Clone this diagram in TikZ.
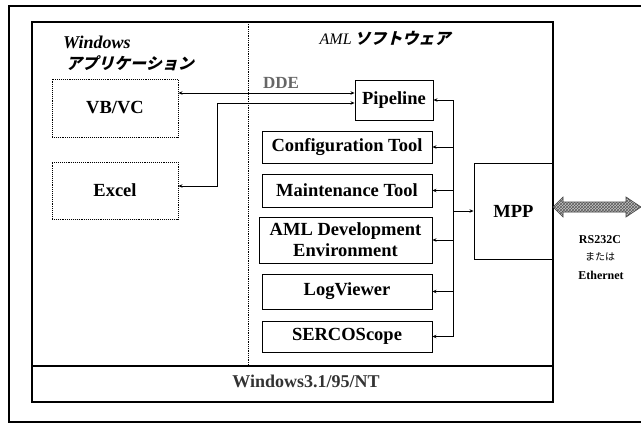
\documentclass[tikz,border=0pt]{standalone}
\usepackage{fontspec}
\setmainfont{Liberation Serif}
\newfontfamily\jpslant[FakeSlant=0.25]{Noto Sans CJK JP}
\newfontfamily\jpplain{Noto Sans CJK JP}
\usetikzlibrary{arrows.meta,patterns}
\begin{document}
\begin{tikzpicture}[x=1pt,y=-1pt,
  tool/.style={draw, line width=0.9pt, inner sep=0pt, align=center,
    font=\fontsize{18.5}{21}\selectfont\bfseries},
  app/.style={draw, densely dotted, line width=0.9pt, inner sep=0pt,
    font=\fontsize{18.5}{21}\selectfont\bfseries},
  conn/.style={line width=0.8pt},
  tipend/.style={-{Stealth[length=4pt,width=3.5pt]}},
  tipboth/.style={{Stealth[length=4pt,width=3.5pt]}-{Stealth[length=4pt,width=3.5pt]}},
  lbl/.style={inner sep=0pt}
]
\useasboundingbox (0,0) rectangle (641,423);
% outer frame
\draw[line width=1.3pt] (645,6) -- (9,6) -- (9,422) -- (645,422);
% main box
\draw[line width=2.4pt] (32,22) rectangle (553,402);
\draw[line width=2.4pt] (32,366) -- (553,366);
\draw[densely dotted, line width=0.8pt] (248,22) -- (248,366);

% headings
\node[lbl, anchor=west, font=\fontsize{18}{20}\selectfont\bfseries\itshape] (winh) at (63,42) {Windows};
\node[lbl, anchor=west, font=\fontsize{16}{18}\selectfont\jpslant\bfseries] (apph) at (66,63) {アプリケーション};
\node[lbl, font=\fontsize{16}{18}\selectfont] (amlh) at (385,38) {{\itshape AML}\,{\jpslant\bfseries ソフトウェア}};
\node[lbl, text=black!60, font=\fontsize{17}{19}\selectfont\bfseries] (dde) at (281,83) {DDE};
\node[lbl, text=black!80, font=\fontsize{18}{20}\selectfont\bfseries] (os) at (306,381) {Windows3.1/95/NT};

% application boxes
\node[app, minimum width=126pt, minimum height=58pt] (vbvc) at (115,108) {VB/VC};
\node[app, minimum width=126pt, minimum height=57pt] (excel) at (115,190.5) {Excel};

% AML tools
\node[tool, minimum width=78pt, minimum height=40pt] (pipe) at (394,100) {Pipeline};
\node[tool, minimum width=170pt, minimum height=32pt] (conf) at (347,147) {Configuration Tool};
\node[tool, minimum width=170pt, minimum height=33pt] (maint) at (347,190.5) {Maintenance Tool};
\node[tool, minimum width=173pt, minimum height=46pt] (amld) at (345.5,240) {AML Development\\Environment};
\node[tool, minimum width=170pt, minimum height=35pt] (logv) at (347,291.5) {LogViewer};
\node[tool, minimum width=170pt, minimum height=31pt] (serco) at (347,336.5) {SERCOScope};
\node[tool, minimum width=79pt, minimum height=96pt] (mpp) at (513.5,211) {MPP};

% DDE connectors
\coordinate (d1) at (0,93);
\coordinate (d2) at (0,103);
\coordinate (e1) at (0,186);
\coordinate (bend) at (217,0);
\draw[conn, tipboth] (vbvc.east |- d1) -- (pipe.west |- d1);
\draw[conn, tipboth] (pipe.west |- d2) -- (bend |- d2) -- (bend |- e1) -- (excel.east |- e1);

% bus
\coordinate (bus) at (453,0);
\draw[conn] (bus |- pipe.east) -- (bus |- serco.east);
\foreach \n in {pipe,conf,maint,amld,logv,serco}
  \draw[conn, tipend] (bus |- \n.east) -- (\n.east);
\draw[conn, tipend] (bus |- mpp.west) -- (mpp.west);

% serial link arrow
\coordinate (lk) at (553,207);
\filldraw[fill=gray!45, draw=gray!50!black, line width=0.6pt]
  (lk) -- ++(10,-10) -- ++(0,5) -- ++(63,0) -- ++(0,-5) -- ++(15,10)
  -- ++(-15,10) -- ++(0,-5) -- ++(-63,0) -- ++(0,5) -- cycle;
\fill[pattern=crosshatch, pattern color=gray!70!black]
  (lk) -- ++(10,-10) -- ++(0,5) -- ++(63,0) -- ++(0,-5) -- ++(15,10)
  -- ++(-15,10) -- ++(0,-5) -- ++(-63,0) -- ++(0,5) -- cycle;
\node[lbl, font=\fontsize{12}{14}\selectfont\bfseries] (rs) at (600,240) {RS232C};
\node[lbl, font=\fontsize{10}{12}\selectfont\jpplain] (mata) at (600,257) {または};
\node[lbl, font=\fontsize{12}{14}\selectfont\bfseries] (eth) at (601,275) {Ethernet};
\end{tikzpicture}
\end{document}
